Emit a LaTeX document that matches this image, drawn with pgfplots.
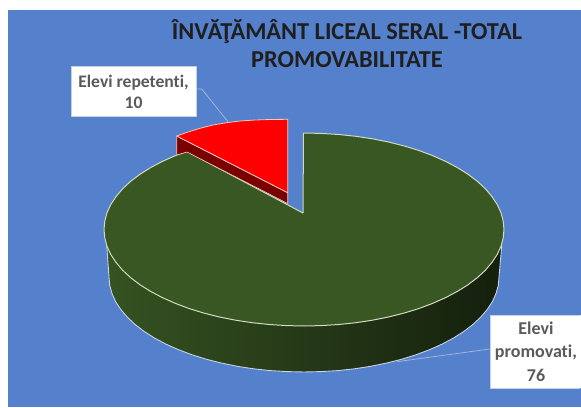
\documentclass[border=0pt]{standalone}
\usepackage{pgfplots}
\pgfplotsset{compat=1.18}
\usepackage{fontspec}
\setmainfont{Carlito}[Ligatures=NoCommon]
\definecolor{bg}{HTML}{5580CC}
\definecolor{topgreen}{HTML}{385723}
\definecolor{rim}{HTML}{CFDABE}
\definecolor{edge}{HTML}{C4D4E4}
\definecolor{labelgray}{HTML}{5A5A5A}
\definecolor{leader}{HTML}{A9BAD6}
\definecolor{wallred}{HTML}{7A0000}
\definecolor{redrim}{HTML}{F0C8C0}
\definecolor{boxline}{HTML}{C8D0DC}
\begin{document}
\begin{tikzpicture}
\begin{axis}[
  scale only axis, width=581pt, height=407pt,
  xmin=0, xmax=581, ymin=0, ymax=407, y dir=reverse,
  hide axis, clip=true,
  every axis plot/.append style={line join=round}
]
% background, then the white margins at the top and on the left
\addplot[fill=bg, draw=none] coordinates {(0,0)(581,0)(581,407)(0,407)} -- cycle;
\addplot[fill=white, draw=none] coordinates {(0,0)(581,0)(581,10)(0,10)} -- cycle;
\addplot[fill=white, draw=none] coordinates {(0,0)(8,0)(8,407)(0,407)} -- cycle;
% side wall of the large slice
\addplot[left color=topgreen!95!black, middle color=topgreen!62!black, right color=topgreen!36!black, draw=edge, line width=0.9pt] table {
106.7 245
109 277
109.7 285.3
112 293.5
115.6 301.6
120.8 309.5
127.3 317.1
135.1 324.5
144.3 331.5
154.6 338.1
166.1 344.2
178.7 349.8
192.1 354.8
206.5 359.3
221.6 363.1
237.3 366.3
253.5 368.8
270.1 370.6
287 371.6
304 372
321 371.6
337.9 370.6
354.5 368.8
370.7 366.3
386.4 363.1
401.5 359.3
415.9 354.8
429.3 349.8
441.9 344.2
453.4 338.1
463.7 331.5
472.9 324.5
480.7 317.1
487.2 309.5
492.4 301.6
496 293.5
498.3 285.3
499 277
501.8 245
304 230
} -- cycle;
% top of the large slice
\addplot[fill=topgreen, draw=rim, line width=1pt] table {
303.5 133
321.4 133.4
338.7 134.5
355.8 136.3
372.4 138.8
388.5 142
404 145.9
418.7 150.4
432.6 155.6
445.4 161.3
457.2 167.5
467.8 174.1
477.2 181.2
485.3 188.7
491.9 196.5
497.2 204.5
501 212.7
503.2 221.1
504 229.5
503.2 237.9
501 246.3
497.2 254.5
491.9 262.5
485.3 270.3
477.2 277.8
467.8 284.9
457.2 291.5
445.4 297.7
432.6 303.4
418.7 308.6
404 313.1
388.5 317
372.4 320.2
355.8 322.7
338.7 324.5
321.4 325.6
304 326
286.6 325.6
269.3 324.5
252.2 322.7
235.6 320.2
219.5 317
204 313.1
189.3 308.6
175.4 303.4
162.6 297.7
150.8 291.5
140.2 284.9
130.8 277.8
122.7 270.3
116.1 262.5
110.8 254.5
107 246.3
104.8 237.9
104 229.5
104.8 221.1
107 212.7
110.8 204.5
116.1 196.5
122.7 188.7
130.8 181.2
140.2 174.1
150.8 167.5
162.6 161.3
175.4 155.6
187 151.5
303 213
} -- cycle;
% red slice wall and top
\addplot[fill=wallred, draw=redrim, line width=0.6pt] table {
176.7 136
287.7 192.7
287.7 203.5
187 152
176.7 155
} -- cycle;
\addplot[fill=red, draw=redrim, line width=0.8pt] table {
176.7 136
188 132
200 128.3
213 125
226.7 122.7
240 121
255 120
270 119.5
287.7 119.3
287.7 192.7
} -- cycle;
% leader lines
\addplot[draw=leader, line width=0.7pt] coordinates {(196,89)(201.7,89)(228,121.7)};
\addplot[draw=leader, line width=0.7pt] coordinates {(490,349)(397,361.7)};
% labels
\addplot[fill=white, draw=boxline, line width=0.8pt] coordinates {(71.7,66)(196,66)(196,116.7)(71.7,116.7)} -- cycle;
\addplot[fill=white, draw=none] coordinates {(490,315)(581,315)(581,388)(490,388)} -- cycle;
\addplot[draw=boxline, line width=0.8pt] coordinates {(580,315)(490,315)(490,388)(580,388)};
\node[text=labelgray, font=\fontsize{17.6pt}{21.5pt}\selectfont\bfseries, align=center] at (axis cs:133.5,92) {Elevi repetenti,\\10};
\node[text=labelgray, font=\fontsize{18pt}{23.5pt}\selectfont\bfseries, align=center] at (axis cs:536,351.5) {Elevi\\promovati,\\76};
\node[text=black!88, font=\fontsize{24.3pt}{28pt}\selectfont\bfseries, align=center] at (axis cs:347,43.5) {ÎNVĂŢĂMÂNT LICEAL SERAL -TOTAL\\PROMOVABILITATE};
\end{axis}
\end{tikzpicture}
\end{document}
